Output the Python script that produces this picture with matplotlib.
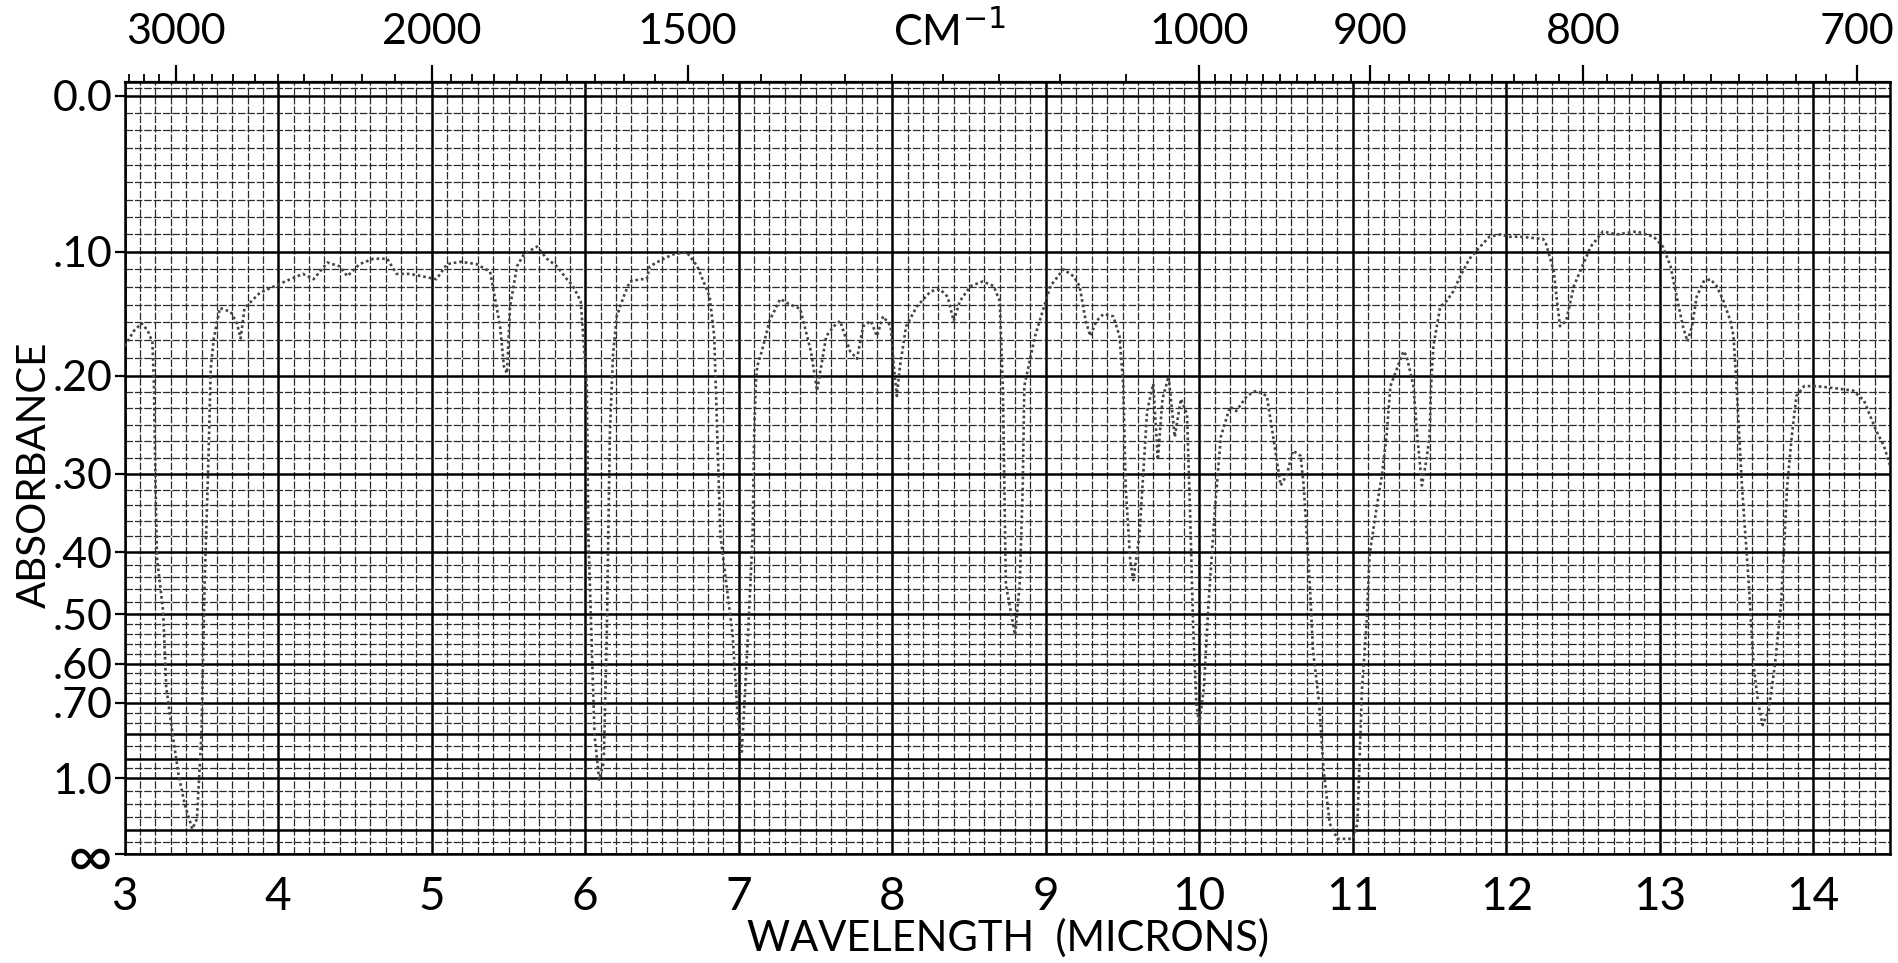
import numpy as np
import matplotlib.pyplot as plt
from matplotlib.ticker import FixedLocator
from matplotlib.transforms import blended_transform_factory

# IR spectrum: wavelength (microns) vs transmittance (fraction)
wavelength = [
    3.00, 3.06, 3.11, 3.15, 3.18, 3.19, 3.20, 3.21, 3.25, 3.27, 3.31, 3.35, 3.39, 3.44,
    3.47, 3.50, 3.52, 3.545, 3.56, 3.58, 3.62, 3.69, 3.73, 3.755, 3.78, 3.88, 4.01, 4.16,
    4.23, 4.32, 4.40, 4.45, 4.53, 4.62, 4.71, 4.77, 4.86, 5.03, 5.10, 5.19, 5.29, 5.38,
    5.41, 5.445, 5.47, 5.49, 5.51, 5.555, 5.60, 5.685, 5.75, 5.815, 5.88, 5.92, 5.97, 6.01,
    6.02, 6.04, 6.06, 6.09, 6.12, 6.14, 6.15, 6.16, 6.18, 6.205, 6.25, 6.29, 6.36, 6.40,
    6.42, 6.51, 6.575, 6.66, 6.73, 6.77, 6.81, 6.84, 6.86, 6.88, 6.92, 6.96, 6.99, 7.02,
    7.06, 7.09, 7.10, 7.11, 7.12, 7.15, 7.20, 7.27, 7.33, 7.40, 7.47, 7.51, 7.57, 7.62,
    7.66, 7.725, 7.77, 7.81, 7.86, 7.90, 7.94, 7.99, 8.01, 8.03, 8.05, 8.09, 8.16, 8.25,
    8.31, 8.36, 8.40, 8.44, 8.51, 8.59, 8.66, 8.70, 8.72, 8.73, 8.74, 8.77, 8.80, 8.83,
    8.85, 8.86, 8.93, 8.96, 9.03, 9.115, 9.18, 9.22, 9.26, 9.29, 9.33, 9.375, 9.44, 9.48,
    9.505, 9.52, 9.55, 9.57, 9.61, 9.66, 9.70, 9.73, 9.76, 9.80, 9.84, 9.88, 9.92, 9.94,
    9.96, 9.98, 10.00, 10.03, 10.06, 10.10, 10.14, 10.20, 10.24, 10.31, 10.37, 10.44, 10.48, 10.53,
    10.57, 10.61, 10.66, 10.68, 10.70, 10.72, 10.74, 10.78, 10.81, 10.85, 10.90, 11.00, 11.03, 11.06,
    11.09, 11.11, 11.16, 11.19, 11.22, 11.245, 11.33, 11.35, 11.395, 11.42, 11.45, 11.48, 11.50, 11.51,
    11.525, 11.57, 11.61, 11.655, 11.70, 11.76, 11.83, 11.89, 11.96, 12.02, 12.09, 12.24, 12.26, 12.31,
    12.33, 12.35, 12.39, 12.44, 12.48, 12.55, 12.63, 12.72, 12.85, 12.96, 13.02, 13.07, 13.11, 13.15,
    13.18, 13.21, 13.24, 13.285, 13.33, 13.37, 13.415, 13.46, 13.48, 13.50, 13.535, 13.58, 13.61, 13.64,
    13.67, 13.71, 13.75, 13.79, 13.83, 13.86, 13.89, 13.94, 14.02, 14.15, 14.26, 14.33, 14.37, 14.41,
    14.46, 14.50,
]
transmittance = [
    0.670, 0.690, 0.700, 0.690, 0.675, 0.620, 0.490, 0.390, 0.320, 0.220, 0.160, 0.105, 0.066, 0.033,
    0.046, 0.160, 0.355, 0.520, 0.640, 0.680, 0.720, 0.715, 0.700, 0.680, 0.720, 0.740, 0.752, 0.765,
    0.758, 0.780, 0.775, 0.762, 0.778, 0.785, 0.785, 0.765, 0.765, 0.758, 0.778, 0.781, 0.778, 0.768,
    0.735, 0.696, 0.643, 0.634, 0.722, 0.775, 0.791, 0.801, 0.785, 0.775, 0.758, 0.749, 0.729, 0.617,
    0.420, 0.289, 0.158, 0.098, 0.120, 0.289, 0.420, 0.552, 0.657, 0.709, 0.735, 0.755, 0.758, 0.758,
    0.775, 0.785, 0.791, 0.794, 0.775, 0.755, 0.735, 0.683, 0.552, 0.420, 0.355, 0.289, 0.190, 0.135,
    0.289, 0.420, 0.552, 0.617, 0.643, 0.663, 0.703, 0.732, 0.725, 0.719, 0.663, 0.611, 0.683, 0.696,
    0.703, 0.663, 0.653, 0.696, 0.703, 0.683, 0.709, 0.696, 0.643, 0.604, 0.643, 0.696, 0.722, 0.742,
    0.745, 0.735, 0.703, 0.729, 0.749, 0.755, 0.749, 0.729, 0.617, 0.486, 0.355, 0.322, 0.289, 0.355,
    0.486, 0.617, 0.683, 0.703, 0.749, 0.771, 0.762, 0.749, 0.703, 0.683, 0.703, 0.712, 0.709, 0.683,
    0.617, 0.486, 0.387, 0.361, 0.420, 0.584, 0.620, 0.520, 0.600, 0.630, 0.550, 0.600, 0.580, 0.450,
    0.300, 0.200, 0.170, 0.220, 0.330, 0.450, 0.550, 0.590, 0.584, 0.604, 0.611, 0.604, 0.552, 0.486,
    0.500, 0.532, 0.525, 0.486, 0.420, 0.355, 0.270, 0.200, 0.110, 0.040, 0.020, 0.020, 0.040, 0.218,
    0.306, 0.396, 0.463, 0.500, 0.552, 0.617, 0.663, 0.657, 0.617, 0.552, 0.486, 0.520, 0.552, 0.617,
    0.670, 0.722, 0.729, 0.742, 0.762, 0.785, 0.801, 0.814, 0.817, 0.814, 0.814, 0.811, 0.804, 0.768,
    0.729, 0.696, 0.703, 0.749, 0.768, 0.801, 0.821, 0.817, 0.821, 0.814, 0.801, 0.775, 0.735, 0.696,
    0.676, 0.696, 0.735, 0.755, 0.758, 0.749, 0.729, 0.703, 0.683, 0.617, 0.486, 0.355, 0.250, 0.200,
    0.170, 0.190, 0.250, 0.330, 0.486, 0.552, 0.604, 0.617, 0.617, 0.614, 0.611, 0.598, 0.578, 0.558,
    0.538, 0.512,
]

# left scale is absorbance, but the paper is linear in transmittance
abs_ticks = [0.0, 0.1, 0.2, 0.3, 0.4, 0.5, 0.6, 0.7, 1.0]
abs_labels = ["0.0", ".10", ".20", ".30", ".40", ".50", ".60", ".70", "1.0"]
micron_ticks = list(range(3, 15))
wavenumber_ticks = [3000, 2000, 1500, 1000, 900, 800, 700]

# chart paper rulings
heavy_abs = [0.0, 0.1, 0.2, 0.3, 0.4, 0.5, 0.6, 0.7, 0.8, 0.9, 1.0, 1.5]
sub_counts = [9, 7, 6, 5, 5, 5, 4, 3, 2, 2, 4, 2]

FONT = ["Lato", "DejaVu Sans"]


def to_wn(x):
    x = np.asarray(x, dtype=float)
    with np.errstate(divide="ignore"):
        return 1e4 / x


def draw_paper(ax, ytop):
    # vertical rulings every 0.1 micron, heavy at whole microns
    for x in np.round(np.arange(3.0, 14.51, 0.1), 2):
        if abs(x - round(x)) < 1e-6:
            ax.vlines(x, 0, ytop, color="black", lw=1.8, zorder=1)
        else:
            ax.vlines(x, 0, ytop, color="#2b2b2b", lw=0.9, linestyles=(0, (6, 1.5)), zorder=1)

    # horizontal rulings, heavy at absorbance values
    heavy_t = [10 ** (-a) for a in heavy_abs] + [0.0]
    for t in heavy_t:
        ax.hlines(t, 3, 14.5, color="black", lw=1.8, zorder=1)
    for (t1, t2), n in zip(zip(heavy_t[:-1], heavy_t[1:]), sub_counts):
        for t in np.linspace(t1, t2, n + 1)[1:-1]:
            ax.hlines(t, 3, 14.5, color="#2b2b2b", lw=0.9, linestyles=(0, (6, 1.5)), zorder=1)
    ax.hlines(np.arange(1.0, ytop, 0.01)[1:], 3, 14.5, color="#2b2b2b", lw=0.9,
              linestyles=(0, (6, 1.5)), zorder=1)


def main():
    plt.rcParams["font.family"] = FONT
    fig = plt.figure(figsize=(18.99, 9.63), dpi=100)
    ax = fig.add_axes([0.0657, 0.1132, 0.9296, 0.8016])
    ytop = 1.018

    draw_paper(ax, ytop)
    ax.plot(wavelength, transmittance, color="#444444", lw=1.9,
            linestyle=(0, (1, 1.1)), zorder=3)

    ax.set_xlim(3, 14.5)
    ax.set_ylim(0, ytop)

    ax.set_xticks(micron_ticks)
    ax.set_xticklabels([str(m) for m in micron_ticks])
    ax.tick_params(axis="x", length=0, pad=16, labelsize=33)

    ax.set_yticks([10 ** (-a) for a in abs_ticks] + [0.0])
    ax.set_yticklabels(abs_labels + ["\u221e"])
    ax.tick_params(axis="y", length=7, width=1.6, pad=2, labelsize=31)
    ax.get_yticklabels()[-1].set_fontsize(44)

    for s in ax.spines.values():
        s.set_linewidth(1.8)

    # wavenumber scale along the top
    top = ax.secondary_xaxis("top", functions=(to_wn, to_wn))
    top.set_xticks(wavenumber_ticks)
    top.set_xticklabels([str(w) for w in wavenumber_ticks])
    minor_wn = list(range(3300, 2000, -100)) + list(range(1950, 1000, -50)) + list(range(990, 690, -10))
    top.xaxis.set_minor_locator(FixedLocator(minor_wn))
    top.tick_params(which="major", length=12, width=1.6, pad=10, labelsize=31)
    top.tick_params(which="minor", length=6, width=1.3)
    top.spines["top"].set_linewidth(1.6)

    trans = blended_transform_factory(ax.transData, ax.transAxes)
    ax.text(8.37, 1.066, "CM$^{-1}$", transform=trans, ha="center", va="center", fontsize=31)

    fig.text(0.018, 0.507, "ABSORBANCE", rotation=90, ha="center", va="center", fontsize=29)
    fig.text(0.531, 0.026, "WAVELENGTH  (MICRONS)", ha="center", va="center", fontsize=30)

    fig.savefig("out.png", dpi=100)
    plt.close(fig)


if __name__ == "__main__":
    main()
